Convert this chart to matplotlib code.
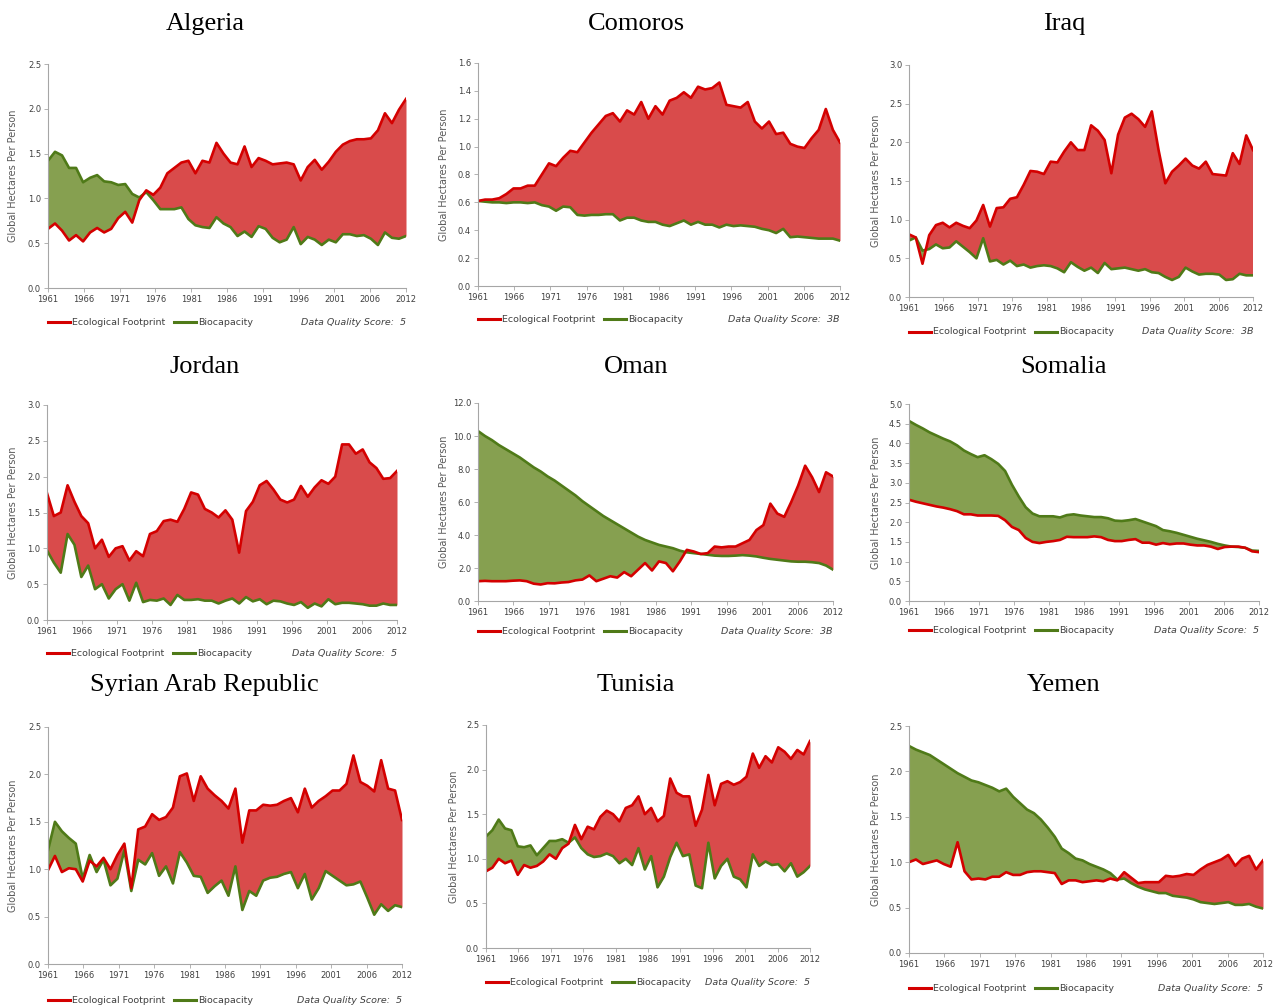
import numpy as np
import matplotlib
matplotlib.use("Agg")
import matplotlib.pyplot as plt
from matplotlib.lines import Line2D

years = np.arange(1961, 2013)
tick_labels = ["1961", "1966", "1971", "1976", "1981", "1986", "1991",
               "1996", "2001", "2006", "2012"]

countries = ["Algeria", "Comoros", "Iraq", "Jordan", "Oman", "Somalia",
             "Syrian Arab Republic", "Tunisia", "Yemen"]
quality_scores = ["5", "3B", "3B", "5", "3B", "5", "5", "5", "5"]

algeria_ef = [0.66, 0.72, 0.64, 0.53, 0.59, 0.52, 0.62, 0.67, 0.62, 0.66, 0.78, 0.85, 0.73,
              0.98, 1.09, 1.04, 1.12, 1.28, 1.34, 1.40, 1.42, 1.28, 1.42, 1.40, 1.62, 1.50,
              1.40, 1.38, 1.58, 1.35, 1.45, 1.42, 1.38, 1.39, 1.40, 1.38, 1.20, 1.35, 1.43,
              1.32, 1.41, 1.52, 1.60, 1.64, 1.66, 1.66, 1.67, 1.76, 1.95, 1.84, 1.99, 2.11]
algeria_bc = [1.42, 1.52, 1.48, 1.34, 1.34, 1.18, 1.23, 1.26, 1.19, 1.18, 1.15, 1.16, 1.05,
              1.01, 1.07, 0.98, 0.88, 0.88, 0.88, 0.90, 0.77, 0.70, 0.68, 0.67, 0.79, 0.72,
              0.68, 0.58, 0.63, 0.57, 0.69, 0.66, 0.56, 0.51, 0.54, 0.68, 0.49, 0.57, 0.54,
              0.48, 0.54, 0.51, 0.60, 0.60, 0.58, 0.59, 0.55, 0.48, 0.62, 0.56, 0.55, 0.58]

comoros_ef = [0.61, 0.62, 0.62, 0.63, 0.66, 0.70, 0.70, 0.72, 0.72, 0.80, 0.88, 0.86, 0.92,
              0.97, 0.96, 1.03, 1.10, 1.16, 1.22, 1.24, 1.18, 1.26, 1.23, 1.32, 1.20, 1.29,
              1.23, 1.33, 1.35, 1.39, 1.35, 1.43, 1.41, 1.42, 1.46, 1.30, 1.29, 1.28, 1.32,
              1.18, 1.13, 1.18, 1.09, 1.10, 1.02, 1.00, 0.99, 1.06, 1.12, 1.27, 1.12, 1.03]
comoros_bc = [0.61, 0.605, 0.60, 0.60, 0.595, 0.60, 0.60, 0.595, 0.60, 0.58, 0.57, 0.54, 0.57,
              0.565, 0.51, 0.505, 0.51, 0.51, 0.515, 0.515, 0.47, 0.49, 0.49, 0.47, 0.46, 0.46,
              0.44, 0.43, 0.45, 0.47, 0.44, 0.46, 0.44, 0.44, 0.42, 0.44, 0.43, 0.435, 0.43,
              0.425, 0.41, 0.40, 0.38, 0.41, 0.35, 0.355, 0.35, 0.345, 0.34, 0.34, 0.34, 0.325]

iraq_ef = [0.81, 0.77, 0.43, 0.80, 0.93, 0.96, 0.90, 0.96, 0.92, 0.89, 0.99, 1.19, 0.91,
           1.15, 1.16, 1.27, 1.29, 1.45, 1.63, 1.62, 1.59, 1.75, 1.74, 1.88, 2.00, 1.90,
           1.90, 2.22, 2.15, 2.03, 1.60, 2.10, 2.32, 2.37, 2.30, 2.20, 2.40, 1.90, 1.47,
           1.62, 1.70, 1.79, 1.70, 1.66, 1.75, 1.59, 1.58, 1.57, 1.86, 1.72, 2.09, 1.90]
iraq_bc = [0.73, 0.77, 0.60, 0.62, 0.68, 0.63, 0.64, 0.72, 0.65, 0.58, 0.50, 0.76, 0.46,
           0.48, 0.42, 0.47, 0.40, 0.42, 0.38, 0.40, 0.41, 0.40, 0.37, 0.32, 0.45, 0.39,
           0.34, 0.38, 0.31, 0.44, 0.36, 0.37, 0.38, 0.36, 0.34, 0.36, 0.32, 0.31, 0.26,
           0.22, 0.26, 0.38, 0.33, 0.29, 0.30, 0.30, 0.29, 0.22, 0.23, 0.30, 0.28, 0.28]

jordan_ef = [1.77, 1.45, 1.50, 1.88, 1.65, 1.45, 1.35, 1.00, 1.12, 0.88, 1.00, 1.03, 0.83,
             0.96, 0.89, 1.20, 1.24, 1.38, 1.40, 1.37, 1.55, 1.78, 1.75, 1.55, 1.50, 1.43,
             1.53, 1.40, 0.94, 1.52, 1.65, 1.88, 1.94, 1.82, 1.68, 1.64, 1.68, 1.87, 1.72,
             1.85, 1.95, 1.90, 2.00, 2.45, 2.45, 2.32, 2.38, 2.20, 2.12, 1.97, 1.98, 2.08]
jordan_bc = [0.97, 0.80, 0.66, 1.20, 1.05, 0.60, 0.76, 0.43, 0.50, 0.30, 0.43, 0.50, 0.27,
             0.52, 0.25, 0.28, 0.27, 0.30, 0.21, 0.35, 0.28, 0.28, 0.29, 0.27, 0.27, 0.23,
             0.27, 0.30, 0.23, 0.32, 0.26, 0.29, 0.22, 0.27, 0.26, 0.23, 0.21, 0.25, 0.17,
             0.23, 0.19, 0.29, 0.22, 0.24, 0.24, 0.23, 0.22, 0.20, 0.20, 0.23, 0.21, 0.21]

oman_ef = [1.20, 1.22, 1.20, 1.20, 1.20, 1.23, 1.25, 1.20, 1.05, 1.00, 1.08, 1.07, 1.12,
           1.15, 1.25, 1.30, 1.55, 1.20, 1.35, 1.50, 1.42, 1.75, 1.50, 1.90, 2.30, 1.85,
           2.40, 2.30, 1.80, 2.40, 3.10, 3.00, 2.85, 2.90, 3.30, 3.25, 3.30, 3.30, 3.50,
           3.70, 4.30, 4.60, 5.90, 5.30, 5.10, 6.00, 7.00, 8.20, 7.50, 6.60, 7.80, 7.55]
oman_bc = [10.3, 10.0, 9.75, 9.45, 9.20, 8.95, 8.70, 8.40, 8.10, 7.85, 7.55, 7.30, 7.00,
           6.70, 6.40, 6.05, 5.75, 5.45, 5.15, 4.90, 4.65, 4.40, 4.15, 3.90, 3.70, 3.55,
           3.40, 3.30, 3.20, 3.05, 2.95, 2.90, 2.85, 2.80, 2.75, 2.73, 2.73, 2.75, 2.78,
           2.75, 2.70, 2.62, 2.55, 2.50, 2.45, 2.40, 2.38, 2.38, 2.35, 2.30, 2.15, 1.90]

somalia_ef = [2.57, 2.52, 2.48, 2.44, 2.40, 2.37, 2.33, 2.28, 2.20, 2.20, 2.17, 2.17, 2.17,
              2.16, 2.05, 1.88, 1.80, 1.60, 1.50, 1.47, 1.50, 1.52, 1.55, 1.63, 1.62, 1.62,
              1.62, 1.64, 1.62, 1.55, 1.52, 1.52, 1.55, 1.57, 1.48, 1.48, 1.43, 1.47, 1.44,
              1.46, 1.46, 1.43, 1.41, 1.41, 1.38, 1.32, 1.37, 1.38, 1.38, 1.35, 1.26, 1.24]
somalia_bc = [4.57, 4.47, 4.38, 4.28, 4.20, 4.12, 4.05, 3.95, 3.82, 3.73, 3.65, 3.70, 3.60,
              3.48, 3.30, 2.95, 2.65, 2.38, 2.22, 2.15, 2.15, 2.15, 2.12, 2.18, 2.20, 2.17,
              2.15, 2.13, 2.13, 2.10, 2.04, 2.03, 2.05, 2.08, 2.02, 1.96, 1.90, 1.80, 1.77,
              1.73, 1.68, 1.63, 1.58, 1.54, 1.50, 1.45, 1.41, 1.38, 1.37, 1.35, 1.28, 1.27]

syria_ef = [0.99, 1.14, 0.97, 1.01, 1.00, 0.87, 1.09, 1.03, 1.12, 1.00, 1.15, 1.27, 0.80,
            1.42, 1.45, 1.58, 1.52, 1.55, 1.65, 1.98, 2.01, 1.72, 1.98, 1.85, 1.78, 1.72,
            1.64, 1.85, 1.28, 1.62, 1.62, 1.68, 1.67, 1.68, 1.72, 1.75, 1.60, 1.85, 1.65,
            1.72, 1.77, 1.83, 1.83, 1.90, 2.20, 1.92, 1.88, 1.82, 2.15, 1.85, 1.83, 1.52]
syria_bc = [1.20, 1.50, 1.40, 1.33, 1.27, 0.90, 1.15, 0.97, 1.10, 0.83, 0.90, 1.20, 0.77,
            1.10, 1.05, 1.17, 0.93, 1.03, 0.85, 1.18, 1.07, 0.93, 0.92, 0.75, 0.82, 0.88,
            0.72, 1.03, 0.57, 0.77, 0.72, 0.88, 0.91, 0.92, 0.95, 0.97, 0.80, 0.95, 0.68,
            0.80, 0.98, 0.93, 0.88, 0.83, 0.84, 0.87, 0.70, 0.52, 0.63, 0.56, 0.62, 0.60]

tunisia_ef = [0.86, 0.90, 1.00, 0.95, 0.98, 0.82, 0.93, 0.90, 0.92, 0.97, 1.05, 1.00, 1.12,
              1.17, 1.38, 1.22, 1.36, 1.33, 1.47, 1.54, 1.50, 1.42, 1.57, 1.60, 1.70, 1.50,
              1.57, 1.42, 1.48, 1.90, 1.74, 1.70, 1.70, 1.37, 1.55, 1.94, 1.60, 1.84, 1.87,
              1.83, 1.86, 1.92, 2.18, 2.02, 2.15, 2.08, 2.25, 2.20, 2.12, 2.22, 2.17, 2.32]
tunisia_bc = [1.25, 1.32, 1.44, 1.34, 1.32, 1.14, 1.13, 1.15, 1.04, 1.12, 1.20, 1.20, 1.22,
              1.18, 1.24, 1.12, 1.05, 1.02, 1.03, 1.06, 1.03, 0.95, 1.00, 0.93, 1.12, 0.88,
              1.03, 0.68, 0.80, 1.02, 1.18, 1.03, 1.05, 0.70, 0.67, 1.18, 0.78, 0.92, 1.00,
              0.80, 0.77, 0.68, 1.05, 0.92, 0.97, 0.93, 0.94, 0.86, 0.95, 0.80, 0.85, 0.92]

yemen_ef = [1.00, 1.03, 0.98, 1.00, 1.02, 0.98, 0.95, 1.22, 0.90, 0.81, 0.82, 0.81, 0.84,
            0.84, 0.89, 0.86, 0.86, 0.89, 0.90, 0.90, 0.89, 0.88, 0.76, 0.80, 0.80, 0.78,
            0.79, 0.80, 0.79, 0.82, 0.80, 0.89, 0.83, 0.77, 0.78, 0.78, 0.78, 0.85, 0.84,
            0.85, 0.87, 0.86, 0.92, 0.97, 1.00, 1.03, 1.08, 0.96, 1.04, 1.07, 0.92, 1.02]
yemen_bc = [2.28, 2.24, 2.21, 2.18, 2.13, 2.08, 2.03, 1.98, 1.94, 1.90, 1.88, 1.85, 1.82,
            1.78, 1.81, 1.72, 1.65, 1.58, 1.54, 1.47, 1.38, 1.28, 1.15, 1.10, 1.04, 1.02,
            0.98, 0.95, 0.92, 0.88, 0.81, 0.82, 0.77, 0.73, 0.70, 0.68, 0.66, 0.66, 0.63,
            0.62, 0.61, 0.59, 0.56, 0.55, 0.54, 0.55, 0.56, 0.53, 0.53, 0.54, 0.51, 0.49]

footprints = [algeria_ef, comoros_ef, iraq_ef, jordan_ef, oman_ef, somalia_ef,
              syria_ef, tunisia_ef, yemen_ef]
biocaps = [algeria_bc, comoros_bc, iraq_bc, jordan_bc, oman_bc, somalia_bc,
           syria_bc, tunisia_bc, yemen_bc]
y_max = [2.5, 1.6, 3.0, 3.0, 12.0, 5.0, 2.5, 2.5, 2.5]
y_step = [0.5, 0.2, 0.5, 0.5, 2.0, 0.5, 0.5, 0.5, 0.5]

# layout in pixels: left, top, right, bottom
boxes = [(48, 64, 406, 288), (478, 63, 840, 286), (909, 65, 1253, 297),
         (47, 405, 397, 620), (478, 403, 833, 601), (909, 404, 1259, 601),
         (48, 727, 402, 964), (486, 725, 810, 948), (909, 726, 1263, 953)]
title_pos = [(205, 24), (636, 24), (1064, 24), (205, 367), (636, 367), (1064, 367),
             (204, 685), (636, 685), (1064, 685)]
ylabel_x = [18, 449, 881, 18, 449, 881, 18, 459, 881]
legend_y = [322, 319, 332, 653, 631, 630, 1000, 982, 988]

W, H = 1281, 1005
RED_FILL = "#d94b4b"
RED_LINE = "#d40000"
GREEN_FILL = "#86a050"
GREEN_LINE = "#4f7a18"
TXT = "#404040"
AXC = "#a6a6a6"

fig = plt.figure(figsize=(W / 100, H / 100), dpi=100)
fig.patch.set_facecolor("white")


def fx(px):
    return px / W


def fy(py):
    return 1 - py / H


for i, name in enumerate(countries):
    l, t, r, b = boxes[i]
    ax = fig.add_axes([fx(l), fy(b), (r - l) / W, (b - t) / H])
    ef = np.array(footprints[i])
    bc = np.array(biocaps[i])
    ax.fill_between(years, ef, bc, where=ef >= bc, interpolate=True,
                    color=RED_FILL, linewidth=0)
    ax.fill_between(years, ef, bc, where=ef <= bc, interpolate=True,
                    color=GREEN_FILL, linewidth=0)
    ax.plot(years, bc, color=GREEN_LINE, lw=1.9, solid_joinstyle="round")
    ax.plot(years, ef, color=RED_LINE, lw=1.9, solid_joinstyle="round")
    ax.set_xlim(1961, 2012)
    ax.set_ylim(0, y_max[i])
    ax.set_xticks(np.linspace(1961, 2012, 11))
    ax.set_xticklabels(tick_labels)
    yt = np.arange(0, y_max[i] + 1e-9, y_step[i])
    ax.set_yticks(yt)
    ax.set_yticklabels([f"{v:.1f}" for v in yt])
    for s in ["top", "right"]:
        ax.spines[s].set_visible(False)
    for s in ["left", "bottom"]:
        ax.spines[s].set_color(AXC)
        ax.spines[s].set_linewidth(0.8)
    ax.tick_params(axis="both", colors=AXC, labelcolor=TXT, labelsize=6.0,
                   length=3, width=0.6, direction="out", pad=2)
    ax.set_ylabel("Global Hectares Per Person", fontsize=7, color="#595959")
    ax.yaxis.set_label_coords((ylabel_x[i] - l) / (r - l), 0.5)
    ax.patch.set_alpha(0)

    fig.text(fx(title_pos[i][0]), fy(title_pos[i][1]), name,
             family="Liberation Serif", fontsize=19, ha="center", va="center",
             color="black")

    ly = legend_y[i]
    fig.add_artist(Line2D([fx(l), fx(l + 22)], [fy(ly), fy(ly)], color=RED_LINE,
                          lw=2.2, transform=fig.transFigure))
    fig.text(fx(l + 24), fy(ly), "Ecological Footprint", fontsize=6.8, color=TXT,
             ha="left", va="center")
    fig.add_artist(Line2D([fx(l + 126), fx(l + 148)], [fy(ly), fy(ly)],
                          color=GREEN_LINE, lw=2.2, transform=fig.transFigure))
    fig.text(fx(l + 150), fy(ly), "Biocapacity", fontsize=6.8, color=TXT,
             ha="left", va="center")
    fig.text(fx(r), fy(ly), "Data Quality Score:  " + quality_scores[i],
             fontsize=6.8, color=TXT, ha="right", va="center", style="italic")

fig.savefig("out.png", dpi=100, facecolor="white")
